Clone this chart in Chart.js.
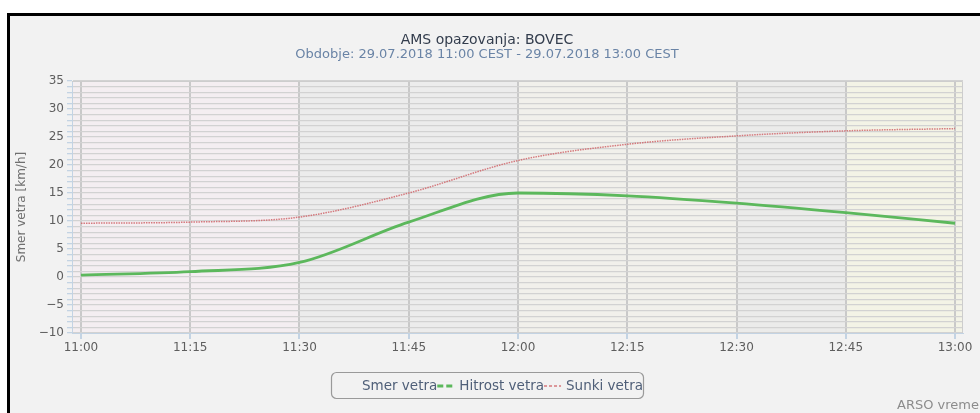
<!DOCTYPE html>
<html>
<head>
<meta charset="utf-8">
<script src="https://cdn.jsdelivr.net/npm/chart.js@4.4.1/dist/chart.umd.min.js"></script>
<style>
    html, body { margin: 0; padding: 0; background: #fff; }
</style>
</head>
<body>
<canvas id="myChart" width="980" height="413"></canvas>
<script>
const times = ['11:00', '11:15', '11:30', '11:45', '12:00', '12:15', '12:30', '12:45', '13:00'];
const seriesNames = ['Smer vetra', 'Hitrost vetra', 'Sunki vetra'];
const smerVetra = [];
const hitrostVetra = [0.35, 0.95, 2.6, 9.8, 15.0, 14.5, 13.2, 11.5, 9.6];
const sunkiVetra = [9.6, 9.8, 10.7, 15.0, 20.8, 23.7, 25.2, 26.1, 26.5];
const yMin = -10;
const yMax = 35;

// background bands between these x positions (index of the time label)
const bandEdges = [2, 4, 6, 7];
const bandColors = ['#f4eef1', '#ececec', '#f1f0eb', '#ebebea', '#f3f3e6'];

function toPoints(values) {
    return values.map((v, i) => ({ x: i, y: v }))
}

function fmtNum(v) {
    return v < 0 ? '\u2212' + Math.abs(v) : String(v)
}

const framePlugin = {
    id: 'frame',
    beforeDraw(chart) {
        const ctx = chart.ctx;
        const area = chart.chartArea;
        const xs = chart.scales.x;
        ctx.save();
        ctx.fillStyle = '#ffffff';
        ctx.fillRect(0, 0, chart.width, chart.height);
        ctx.fillStyle = '#f2f2f2';
        ctx.fillRect(10, 16, chart.width - 10, chart.height - 16);
        ctx.fillStyle = '#000000';
        ctx.fillRect(7, 13, chart.width - 7, 3);
        ctx.fillRect(7, 13, 3, chart.height - 13);

        // plot bands
        let left = area.left;
        bandColors.forEach((c, i) => {
            const right = i < bandEdges.length ? xs.getPixelForValue(bandEdges[i]) : area.right;
            ctx.fillStyle = c;
            ctx.fillRect(left, area.top, right - left, area.bottom - area.top);
            left = right;
        });
        ctx.restore();
    },
    afterDraw(chart) {
        const ctx = chart.ctx;
        const area = chart.chartArea;
        ctx.save();
        // plot border top/right
        ctx.strokeStyle = '#cdcdcd';
        ctx.lineWidth = 1;
        ctx.beginPath();
        ctx.moveTo(area.left, area.top + 0.5);
        ctx.lineTo(area.right - 0.5, area.top + 0.5);
        ctx.lineTo(area.right - 0.5, area.bottom);
        ctx.stroke();

        // titles
        ctx.textAlign = 'center';
        ctx.textBaseline = 'middle';
        ctx.fillStyle = '#333d4d';
        ctx.font = '14px "DejaVu Sans"';
        ctx.fillText('AMS opazovanja: BOVEC', 487, 40);
        ctx.fillStyle = '#6a84a6';
        ctx.font = '13px "DejaVu Sans"';
        ctx.fillText('Obdobje: 29.07.2018 11:00 CEST - 29.07.2018 13:00 CEST', 487, 55);

        // legend
        ctx.fillStyle = '#f2f2f2';
        ctx.strokeStyle = '#9a9a9a';
        ctx.lineWidth = 1.2;
        ctx.beginPath();
        ctx.roundRect(331.5, 372.5, 312, 26, 5);
        ctx.fill();
        ctx.stroke();
        ctx.font = '13.5px "DejaVu Sans"';
        ctx.textAlign = 'left';
        let x = 362;
        chart.data.datasets.forEach((ds, i) => {
            if (i > 0) {
                ctx.strokeStyle = ds.borderColor;
                ctx.lineWidth = ds.borderWidth;
                ctx.setLineDash(ds.legendDash);
                ctx.beginPath();
                ctx.moveTo(x, 386);
                ctx.lineTo(x + 17, 386);
                ctx.stroke();
                ctx.setLineDash([]);
                x += 22;
            }
            ctx.fillStyle = '#4f5f78';
            ctx.fillText(ds.label, x, 386);
            x += ctx.measureText(ds.label).width;
        });

        ctx.fillStyle = '#8c8c8c';
        ctx.font = '13px "DejaVu Sans"';
        ctx.fillText('ARSO vreme.si', 897, 406);
        ctx.restore();
    }
};

function buildChart() {
    const ctx = document.getElementById('myChart');
    new Chart(ctx, {
        type: 'line',
        data: {
            datasets: [{
                label: seriesNames[0],
                data: toPoints(smerVetra),
                borderColor: 'rgba(0,0,0,0)',
                borderWidth: 0,
                legendDash: []
            }, {
                label: seriesNames[1],
                data: toPoints(hitrostVetra),
                borderColor: '#5cb85c',
                borderWidth: 2.8,
                pointRadius: 0,
                cubicInterpolationMode: 'monotone',
                legendDash: [6, 3]
            }, {
                label: seriesNames[2],
                data: toPoints(sunkiVetra),
                borderColor: 'rgba(208,100,105,0.85)',
                borderWidth: 1.5,
                borderDash: [1.5, 1],
                pointRadius: 0,
                cubicInterpolationMode: 'monotone',
                legendDash: [3, 2]
            }]
        },
        options: {
            responsive: false,
            animation: false,
            layout: {
                padding: { left: 11, right: 17, top: 81, bottom: 50 }
            },
            plugins: {
                legend: { display: false },
                tooltip: { enabled: false }
            },
            scales: {
                x: {
                    type: 'linear',
                    min: -0.082,
                    max: 8.073,
                    afterBuildTicks: function (scale) {
                        scale.ticks = times.map((t, i) => ({ value: i }))
                    },
                    afterFit: function (scale) {
                        scale.height = 30
                    },
                    ticks: {
                        autoSkip: false,
                        maxRotation: 0,
                        padding: 2,
                        color: '#5e5e5e',
                        font: { family: 'DejaVu Sans', size: 12 },
                        callback: function (value) {
                            return times[value]
                        }
                    },
                    grid: {
                        color: '#c9c9c9',
                        lineWidth: 2,
                        tickColor: '#c3d3e3',
                        tickLength: 6
                    },
                    border: { color: '#c3d3e3', width: 1 }
                },
                y: {
                    min: yMin,
                    max: yMax,
                    afterBuildTicks: function (scale) {
                        const ticks = [];
                        for (let v = yMin; v <= yMax; v++) {
                            ticks.push({ value: v })
                        }
                        scale.ticks = ticks
                    },
                    afterFit: function (scale) {
                        scale.width = 61
                    },
                    ticks: {
                        autoSkip: false,
                        padding: 3,
                        color: '#5e5e5e',
                        font: { family: 'DejaVu Sans', size: 12 },
                        callback: function (value) {
                            return value % 5 === 0 ? fmtNum(value) : ''
                        }
                    },
                    grid: {
                        color: '#d2d2d2',
                        lineWidth: 1.3,
                        tickColor: '#c3d3e3',
                        tickLength: 5
                    },
                    border: { color: '#c3d3e3', width: 1 },
                    title: {
                        display: true,
                        text: 'Smer vetra [km/h]',
                        color: '#707070',
                        font: { family: 'DejaVu Sans', size: 12 },
                        padding: { top: 4, bottom: 0 }
                    }
                }
            }
        },
        plugins: [framePlugin]
    });
}

buildChart()
</script>
</body>
</html>
